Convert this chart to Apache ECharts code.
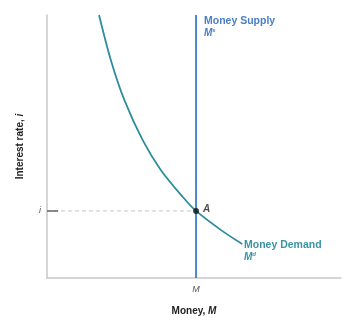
<!DOCTYPE html>
<html><head><meta charset="utf-8">
<script src="https://cdn.jsdelivr.net/npm/echarts@6/dist/echarts.min.js"></script>
<style>html,body{margin:0;padding:0;background:#fff}#c{width:362px;height:324px}</style>
</head><body><div id="c"></div>
<script>
// Data (arbitrary units, x: money 0-100, y: interest rate 0-100)
const demandX = [17.7, 21.7, 26.3, 32.5, 38.7, 46.2, 50.7, 59.1, 66.4];
const demandY = [100, 82.9, 67.7, 52.5, 41.1, 30.8, 25.5, 18.3, 12.9];
const supplyX = [50.7, 50.7];
const supplyY = [0, 100];
const equilibrium = [50.7, 25.5];
const xTickLabels = ['M'];
const yTickLabels = ['i'];

const F = '"Liberation Sans", Arial, sans-serif';
const nameRich = {
  n: {fontFamily: F, fontWeight: 'bold', fontSize: 10, color: '#222'},
  it: {fontFamily: F, fontWeight: 'bold', fontStyle: 'italic', fontSize: 10, color: '#222'}
};
const chart = echarts.init(document.getElementById('c'));
chart.setOption({
  animation: false,
  grid: {left: 47, right: 21, top: 15, bottom: 46},
  xAxis: {
    type: 'value', min: 0, max: 100,
    axisLine: {lineStyle: {color: '#c8c8c8', width: 1.5}},
    axisTick: {show: false}, splitLine: {show: false},
    axisLabel: {customValues: [equilibrium[0]], formatter: () => xTickLabels[0],
      color: '#555', fontStyle: 'italic', fontFamily: F, fontSize: 9, margin: 7},
    name: '{n|Money, }{it|M}', nameLocation: 'middle', nameGap: 28,
    nameTextStyle: {fontFamily: F, fontWeight: 'bold', fontSize: 10, color: '#222', rich: nameRich},
  },
  yAxis: {
    type: 'value', min: 0, max: 100,
    axisLine: {show: true, lineStyle: {color: '#c8c8c8', width: 1.5}},
    axisTick: {show: false}, splitLine: {show: false},
    axisLabel: {customValues: [equilibrium[1]], formatter: () => yTickLabels[0],
      color: '#555', fontStyle: 'italic', fontFamily: F, fontSize: 9, margin: 6},
    name: '{n|Interest rate, }{it|i}', nameLocation: 'middle', nameGap: 22, nameRotate: 90,
    nameTextStyle: {fontFamily: F, fontWeight: 'bold', fontSize: 10, color: '#222', rich: nameRich},
  },
  series: [
    {type: 'line', data: [[0, equilibrium[1]], [equilibrium[0], equilibrium[1]]], symbol: 'none',
     lineStyle: {color: '#c4c4c4', width: 1, type: [4, 3]}, z: 1},
    {type: 'line', data: [[0, equilibrium[1]], [3.8, equilibrium[1]]], symbol: 'none',
     lineStyle: {color: '#666', width: 1.5}, z: 2},
    {type: 'line', data: supplyX.map((x, i) => [x, supplyY[i]]), symbol: 'none',
     lineStyle: {color: '#4a86c8', width: 2}, z: 3},
    {type: 'line', data: demandX.map((x, i) => [x, demandY[i]]), symbol: 'none', smooth: 0.3,
     lineStyle: {color: '#2f8c9c', width: 1.8}, z: 4},
    {type: 'scatter', data: [equilibrium], symbolSize: 6, itemStyle: {color: '#111'}, z: 5,
     label: {show: true, position: 'right', distance: 4, formatter: 'A', fontFamily: F,
       fontStyle: 'italic', fontWeight: 'bold', fontSize: 10, color: '#222', offset: [0, -2]}},
  ],
  graphic: [
    {type: 'text', left: 204, top: 16, style: {
      text: '{a|Money Supply}\n{b|M}{s|s}', fontFamily: F,
      rich: {a: {fontFamily: F, fontWeight: 'bold', fontSize: 10.5, fill: '#4a80c4', lineHeight: 12},
             b: {fontFamily: F, fontWeight: 'bold', fontStyle: 'italic', fontSize: 10, fill: '#4a80c4', lineHeight: 12},
             s: {fontFamily: F, fontWeight: 'bold', fontStyle: 'italic', fontSize: 6, fill: '#4a80c4', verticalAlign: 'top', lineHeight: 12}}}},
    {type: 'text', left: 244, top: 240, style: {
      text: '{a|Money Demand}\n{b|M}{s|d}', fontFamily: F,
      rich: {a: {fontFamily: F, fontWeight: 'bold', fontSize: 10.5, fill: '#3a93a3', lineHeight: 12},
             b: {fontFamily: F, fontWeight: 'bold', fontStyle: 'italic', fontSize: 10, fill: '#3a93a3', lineHeight: 12},
             s: {fontFamily: F, fontWeight: 'bold', fontStyle: 'italic', fontSize: 6, fill: '#3a93a3', verticalAlign: 'top', lineHeight: 12}}}},
  ]
});
</script></body></html>
